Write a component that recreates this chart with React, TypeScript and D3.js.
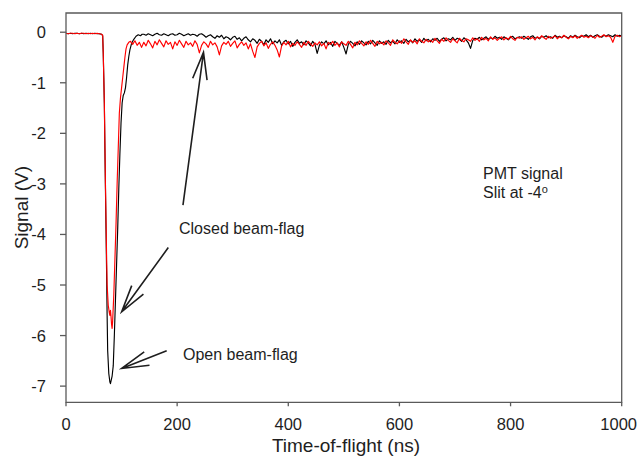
import { useRef, useEffect } from "react";
import * as d3 from "d3";

// Tick values
const xTicks = [0, 200, 400, 600, 800, 1000];
const yTicks = [0, -1, -2, -3, -4, -5, -6, -7];

// Open beam-flag (black) – pulse region, time in ns, signal in V
const blackHeadT = [0, 4, 8, 12, 16, 20, 24, 28, 32, 36, 40, 44, 48, 52, 56, 60, 64, 66, 67, 68, 69, 70, 71, 72, 73, 74, 75, 77, 79, 80, 81, 83, 85, 87, 89, 91, 93, 95, 97, 99, 101, 103, 105, 107, 109, 111, 113, 115, 118, 122, 126, 130, 134, 137];
const blackHeadV = [-0.02, -0.03, -0.02, -0.03, -0.02, -0.02, -0.03, -0.02, -0.03, -0.02, -0.03, -0.02, -0.03, -0.02, -0.03, -0.03, -0.04, -0.07, -0.4, -0.9, -1.4, -2.3, -3.1, -3.9, -4.7, -5.6, -6.3, -6.75, -6.92, -6.95, -6.9, -6.8, -6.6, -6.0, -5.3, -4.6, -3.9, -3.1, -2.4, -1.8, -1.4, -1.25, -1.2, -1.1, -0.9, -0.65, -0.48, -0.35, -0.22, -0.14, -0.08, -0.05, -0.07, -0.04];

// Closed beam-flag (red) – pulse region
const redHeadT = [0, 4, 8, 12, 16, 20, 24, 28, 32, 36, 40, 44, 48, 52, 56, 60, 64, 66, 67, 68, 69, 70, 71, 72, 73, 74, 76, 78, 79, 80, 81, 82, 83, 84, 86, 88, 90, 92, 94, 96, 98, 100, 102, 104, 106, 108, 110, 113, 116, 120, 124, 128, 132, 136];
const redHeadV = [-0.02, -0.03, -0.02, -0.02, -0.03, -0.02, -0.03, -0.02, -0.02, -0.03, -0.02, -0.03, -0.02, -0.03, -0.02, -0.03, -0.04, -0.06, -0.4, -0.9, -1.4, -2.2, -3.0, -3.7, -4.4, -5.0, -5.4, -5.55, -5.6, -5.5, -5.62, -5.78, -5.86, -5.7, -5.2, -4.5, -3.8, -3.0, -2.3, -1.6, -1.3, -1.1, -0.9, -0.7, -0.5, -0.33, -0.25, -0.2, -0.18, -0.24, -0.17, -0.26, -0.2, -0.3];

// Tail region, sampled every 4 ns from 140 ns to 1000 ns
const tailStart = 140;
const tailStep = 4;
const blackTailV = [
  -0.04, -0.06, -0.03, -0.05, -0.07, -0.04, -0.02, -0.05, -0.06, -0.03,
  -0.05, -0.07, -0.04, -0.03, -0.06, -0.05, -0.02, -0.04, -0.07, -0.05,
  -0.03, -0.06, -0.04, -0.05, -0.08, -0.04, -0.03, -0.06, -0.1, -0.07,
  -0.05, -0.09, -0.12, -0.07, -0.1, -0.06, -0.13, -0.09, -0.11, -0.15,
  -0.1, -0.08, -0.14, -0.11, -0.17, -0.12, -0.09, -0.15, -0.19, -0.13,
  -0.16, -0.22, -0.14, -0.18, -0.25, -0.15, -0.2, -0.13, -0.23, -0.17,
  -0.21, -0.15, -0.26, -0.19, -0.16, -0.23, -0.18, -0.28, -0.2, -0.15,
  -0.22, -0.19, -0.25, -0.17, -0.21, -0.27, -0.18, -0.24, -0.42, -0.26,
  -0.19, -0.23, -0.17, -0.25, -0.2, -0.28, -0.18, -0.22, -0.26, -0.19,
  -0.3, -0.43, -0.24, -0.18, -0.22, -0.27, -0.19, -0.24, -0.17, -0.21,
  -0.25, -0.18, -0.23, -0.16, -0.21, -0.26, -0.17, -0.22, -0.19, -0.24,
  -0.16, -0.21, -0.18, -0.23, -0.15, -0.2, -0.17, -0.22, -0.14, -0.19,
  -0.16, -0.21, -0.13, -0.18, -0.15, -0.2, -0.12, -0.17, -0.14, -0.19,
  -0.13, -0.16, -0.12, -0.18, -0.14, -0.11, -0.17, -0.13, -0.15, -0.1,
  -0.16, -0.12, -0.14, -0.18, -0.11, -0.15, -0.21, -0.32, -0.16, -0.12,
  -0.14, -0.1, -0.15, -0.12, -0.09, -0.14, -0.11, -0.13, -0.08, -0.12,
  -0.1, -0.14, -0.09, -0.12, -0.15, -0.1, -0.08, -0.13, -0.11, -0.09,
  -0.12, -0.08, -0.11, -0.14, -0.09, -0.07, -0.12, -0.1, -0.13, -0.08,
  -0.1, -0.07, -0.11, -0.09, -0.12, -0.06, -0.1, -0.08, -0.11, -0.07,
  -0.09, -0.12, -0.07, -0.1, -0.06, -0.09, -0.11, -0.07, -0.08, -0.05,
  -0.09, -0.06, -0.1, -0.07, -0.05, -0.08, -0.1, -0.06, -0.08, -0.05,
  -0.07, -0.09, -0.05, -0.08, -0.06, -0.07,
];
const redTailV = [
  -0.2, -0.27, -0.16, -0.23, -0.31, -0.18, -0.25, -0.15, -0.22, -0.29,
  -0.17, -0.24, -0.2, -0.33, -0.19, -0.26, -0.16, -0.23, -0.3, -0.18,
  -0.25, -0.21, -0.28, -0.17, -0.24, -0.41, -0.26, -0.19, -0.23, -0.3,
  -0.18, -0.25, -0.21, -0.29, -0.45, -0.27, -0.2, -0.24, -0.18, -0.28,
  -0.22, -0.17, -0.31, -0.24, -0.19, -0.26, -0.21, -0.33, -0.23, -0.38,
  -0.5, -0.29, -0.22, -0.18, -0.27, -0.21, -0.32, -0.24, -0.19, -0.26,
  -0.35, -0.49, -0.27, -0.2, -0.25, -0.18, -0.29, -0.22, -0.26, -0.19,
  -0.24, -0.3, -0.2, -0.26, -0.18, -0.23, -0.28, -0.21, -0.25, -0.19,
  -0.27, -0.22, -0.33, -0.2, -0.24, -0.18, -0.26, -0.21, -0.29, -0.19,
  -0.23, -0.26, -0.18, -0.24, -0.31, -0.2, -0.25, -0.17, -0.22, -0.27,
  -0.19, -0.24, -0.16, -0.22, -0.28, -0.18, -0.23, -0.2, -0.25, -0.17,
  -0.21, -0.26, -0.15, -0.2, -0.23, -0.17, -0.22, -0.13, -0.19, -0.24,
  -0.15, -0.2, -0.17, -0.23, -0.13, -0.18, -0.21, -0.14, -0.19, -0.16,
  -0.2, -0.12, -0.17, -0.22, -0.14, -0.18, -0.11, -0.16, -0.2, -0.13,
  -0.17, -0.21, -0.12, -0.16, -0.19, -0.13, -0.15, -0.18, -0.11, -0.16,
  -0.13, -0.18, -0.1, -0.15, -0.12, -0.17, -0.09, -0.14, -0.11, -0.16,
  -0.12, -0.09, -0.15, -0.11, -0.14, -0.08, -0.13, -0.16, -0.1, -0.12,
  -0.09, -0.14, -0.11, -0.08, -0.13, -0.1, -0.15, -0.09, -0.12, -0.07,
  -0.11, -0.14, -0.08, -0.12, -0.1, -0.07, -0.13, -0.09, -0.11, -0.06,
  -0.1, -0.13, -0.08, -0.11, -0.07, -0.12, -0.09, -0.06, -0.1, -0.08,
  -0.11, -0.07, -0.09, -0.12, -0.06, -0.1, -0.08, -0.05, -0.09, -0.07,
  -0.1, -0.2, -0.08, -0.06, -0.09, -0.07,
];

// Annotations in data units: [tail ns, tail V, tip ns, tip V]
const arrows = [
  [210.5, -3.42, 247.4, -0.4],
  [184.1, -4.26, 100.2, -5.53],
  [181.2, -6.3, 100.2, -6.65],
];
const labels = [
  { t: 203.3, v: -3.87, text: "Closed beam-flag" },
  { t: 210.5, v: -6.36, text: "Open beam-flag" },
  { t: 750.4, v: -2.78, text: "PMT signal" },
];
const slitLabel = { t: 750.4, v: -3.17, text: "Slit at -4", sup: "o" };

const WIDTH = 638;
const HEIGHT = 460;
const FONT = "'Liberation Sans', Arial, Helvetica, sans-serif";
const TEXT = "#1e1e1e";
const AXIS = "#5a5a5a";

const buildSeries = (headT, headV, tailV) => {
  const pts = headT.map((t, i) => [t, headV[i]]);
  tailV.forEach((v, i) => pts.push([tailStart + i * tailStep, v]));
  return pts;
};

const App = () => {
  const svgRef = useRef(null);

  useEffect(() => {
    const svg = d3.select(svgRef.current);
    svg.selectAll("*").remove();

    const x = d3.scaleLinear().domain([0, 1000]).range([66, 621.7]);
    const y = d3.scaleLinear().domain([-7.32, 0.38]).range([402.3, 13]);
    const [x0, x1] = x.range();
    const [y0, y1] = y.range();

    const g = svg.append("g").style("font-family", FONT);

    // Traces
    const line = d3
      .line()
      .x((d) => x(d[0]))
      .y((d) => y(d[1]));

    g.append("path")
      .datum(buildSeries(blackHeadT, blackHeadV, blackTailV))
      .attr("fill", "none")
      .attr("stroke", "#000")
      .attr("stroke-width", 1.15)
      .attr("stroke-linejoin", "round")
      .attr("d", line);

    g.append("path")
      .datum(buildSeries(redHeadT, redHeadV, redTailV))
      .attr("fill", "none")
      .attr("stroke", "#ff0000")
      .attr("stroke-width", 1.15)
      .attr("stroke-linejoin", "round")
      .attr("d", line);

    // Frame
    g.append("path")
      .attr("d", `M${x0},${y0}V${y1}H${x1}V${y0}Z`)
      .attr("fill", "none")
      .attr("stroke", AXIS)
      .attr("stroke-width", 1.3);

    // X ticks
    g.selectAll(".xt")
      .data(xTicks)
      .enter()
      .append("line")
      .attr("x1", (d) => x(d))
      .attr("x2", (d) => x(d))
      .attr("y1", y0)
      .attr("y2", y0 + 4)
      .attr("stroke", AXIS)
      .attr("stroke-width", 1.3);

    g.selectAll(".xl")
      .data(xTicks)
      .enter()
      .append("text")
      .attr("x", (d) => x(d))
      .attr("y", 430)
      .attr("text-anchor", "middle")
      .style("font-size", "16.5px")
      .style("fill", TEXT)
      .text((d) => d)
      .each(function () {
        // keep the last label inside the picture
        const w = this.getComputedTextLength();
        const cx = +this.getAttribute("x");
        if (cx + w / 2 > WIDTH - 1) this.setAttribute("x", WIDTH - 1 - w / 2);
      });

    // Y ticks
    g.selectAll(".yt")
      .data(yTicks)
      .enter()
      .append("line")
      .attr("x1", x0 - 6)
      .attr("x2", x0)
      .attr("y1", (d) => y(d))
      .attr("y2", (d) => y(d))
      .attr("stroke", AXIS)
      .attr("stroke-width", 1.3);

    g.selectAll(".yl")
      .data(yTicks)
      .enter()
      .append("text")
      .attr("x", 46)
      .attr("y", (d) => y(d))
      .attr("dy", "0.36em")
      .attr("text-anchor", "end")
      .style("font-size", "16.5px")
      .style("fill", TEXT)
      .text((d) => d);

    // Axis titles
    g.append("text")
      .attr("x", 346)
      .attr("y", 452)
      .attr("text-anchor", "middle")
      .style("font-size", "19px")
      .style("fill", TEXT)
      .text("Time-of-flight (ns)");

    g.append("text")
      .attr("transform", `translate(28,${(y0 + y1) / 2}) rotate(-90)`)
      .attr("text-anchor", "middle")
      .style("font-size", "19px")
      .style("fill", TEXT)
      .text("Signal (V)");

    // Arrows with open heads
    const headLen = 28;
    const half = (15 * Math.PI) / 180;
    arrows.forEach(([ta, va, tb, vb]) => {
      const sx = x(ta);
      const sy = y(va);
      const ex = x(tb);
      const ey = y(vb);
      const ang = Math.atan2(sy - ey, sx - ex);
      const p1 = [ex + headLen * Math.cos(ang - half), ey + headLen * Math.sin(ang - half)];
      const p2 = [ex + headLen * Math.cos(ang + half), ey + headLen * Math.sin(ang + half)];
      g.append("path")
        .attr("d", `M${sx},${sy}L${ex},${ey}M${p1[0]},${p1[1]}L${ex},${ey}L${p2[0]},${p2[1]}`)
        .attr("fill", "none")
        .attr("stroke", TEXT)
        .attr("stroke-width", 1.6);
    });

    // Labels
    g.selectAll(".ann")
      .data(labels)
      .enter()
      .append("text")
      .attr("x", (d) => x(d.t))
      .attr("y", (d) => y(d.v))
      .attr("dy", "0.36em")
      .style("font-size", "16px")
      .style("fill", TEXT)
      .text((d) => d.text);

    const slit = g
      .append("text")
      .attr("x", x(slitLabel.t))
      .attr("y", y(slitLabel.v))
      .attr("dy", "0.36em")
      .style("font-size", "16px")
      .style("fill", TEXT);
    slit.append("tspan").text(slitLabel.text);
    slit
      .append("tspan")
      .attr("dy", "-0.45em")
      .style("font-size", "11px")
      .text(slitLabel.sup);
  }, []);

  return (
    <svg
      ref={svgRef}
      width={WIDTH}
      height={HEIGHT}
      style={{ position: "absolute", left: 0, top: 0, background: "#fff" }}
    ></svg>
  );
};

export default App;
